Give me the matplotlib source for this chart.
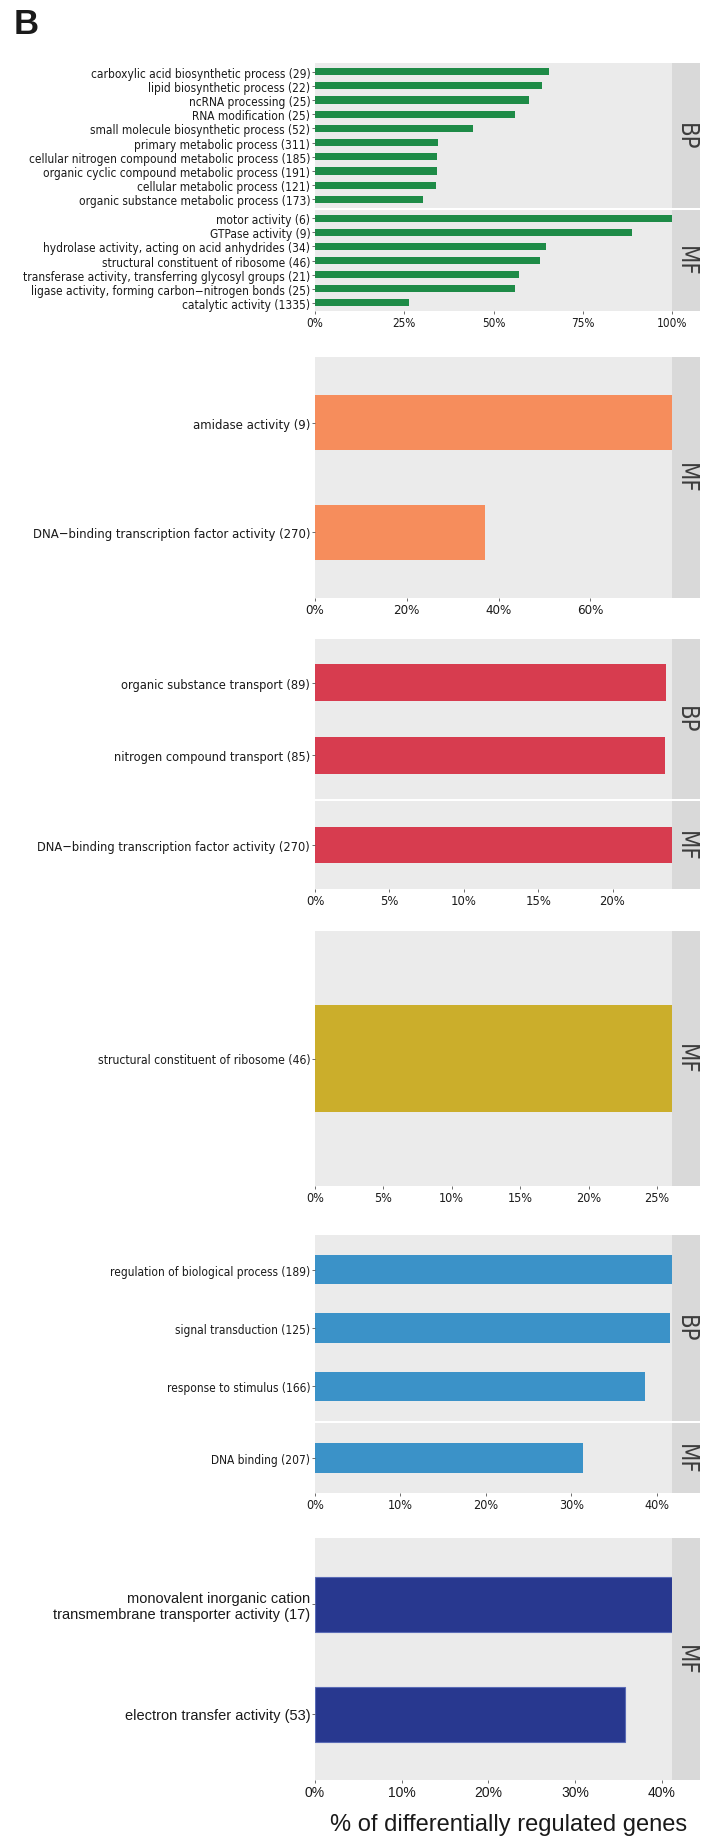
import numpy as np
import matplotlib.pyplot as plt

W, H = 706, 1840
DPI = 100

NARROW = ['DejaVu Sans']
REGULAR = ['Liberation Sans', 'DejaVu Sans']

# --- data: % of differentially regulated genes per GO term ---
g1_bp_terms = ['carboxylic acid biosynthetic process (29)',
               'lipid biosynthetic process (22)',
               'ncRNA processing (25)',
               'RNA modification (25)',
               'small molecule biosynthetic process (52)',
               'primary metabolic process (311)',
               'cellular nitrogen compound metabolic process (185)',
               'organic cyclic compound metabolic process (191)',
               'cellular metabolic process (121)',
               'organic substance metabolic process (173)']
g1_bp_pct = [65.5, 63.6, 60.0, 56.0, 44.2, 34.4, 34.3, 34.3, 33.9, 30.3]
g1_mf_terms = ['motor activity (6)',
               'GTPase activity (9)',
               'hydrolase activity, acting on acid anhydrides (34)',
               'structural constituent of ribosome (46)',
               'transferase activity, transferring glycosyl groups (21)',
               'ligase activity, forming carbon\u2212nitrogen bonds (25)',
               'catalytic activity (1335)']
g1_mf_pct = [100.0, 88.9, 64.7, 63.0, 57.1, 56.0, 26.3]

g2_mf_terms = ['amidase activity (9)',
               'DNA\u2212binding transcription factor activity (270)']
g2_mf_pct = [77.8, 37.0]

g3_bp_terms = ['organic substance transport (89)',
               'nitrogen compound transport (85)']
g3_bp_pct = [23.6, 23.5]
g3_mf_terms = ['DNA\u2212binding transcription factor activity (270)']
g3_mf_pct = [24.0]

g4_mf_terms = ['structural constituent of ribosome (46)']
g4_mf_pct = [26.1]

g5_bp_terms = ['regulation of biological process (189)',
               'signal transduction (125)',
               'response to stimulus (166)']
g5_bp_pct = [41.8, 41.6, 38.6]
g5_mf_terms = ['DNA binding (207)']
g5_mf_pct = [31.4]

g6_mf_terms = ['monovalent inorganic cation\ntransmembrane transporter activity (17)',
               'electron transfer activity (53)']
g6_mf_pct = [41.2, 35.8]

fig = plt.figure(figsize=(W / DPI, H / DPI), dpi=DPI)

L, R, S = 315, 672, 700


def facet(top, bot, terms, pct, xmax, color, strip, ticks, show_x,
          font=NARROW, stretch='condensed', lsize=8.6, tsize=8.5, edge=None):
    ax = fig.add_axes([L / W, 1 - bot / H, (R - L) / W, (bot - top) / H])
    n = len(terms)
    y = np.arange(n, 0, -1)
    ax.barh(y, pct, height=0.5, color=color,
            edgecolor=edge if edge else color, linewidth=0.8 if edge else 0)
    ax.set_xlim(0, xmax)
    ax.set_ylim(0.4, n + 0.6)
    ax.set_facecolor('#ebebeb')
    for s in ax.spines.values():
        s.set_visible(False)
    ax.set_yticks(y)
    ax.set_yticklabels(terms, fontsize=lsize, family=font, stretch=stretch,
                       color='#1a1a1a', linespacing=1.1)
    ax.set_xticks(ticks)
    ax.tick_params(length=2, width=0.6, color='#555555', pad=1.5)
    if show_x:
        ax.set_xticklabels(['%d%%' % t for t in ticks], fontsize=tsize,
                           family=font, stretch=stretch, color='#1a1a1a')
    else:
        ax.set_xticklabels([])
        ax.tick_params(axis='x', length=0)

    sax = fig.add_axes([R / W, 1 - bot / H, (S - R) / W, (bot - top) / H])
    sax.set_facecolor('#d9d9d9')
    sax.set_xticks([])
    sax.set_yticks([])
    for s in sax.spines.values():
        s.set_visible(False)
    sax.text(0.5, 0.5, strip, rotation=-90, ha='center', va='center',
             fontsize=17, family=NARROW, stretch='condensed', color='#3c3c3c',
             transform=sax.transAxes)
    return ax


# panel label
fig.text(14 / W, 1 - 8 / H, 'B', fontsize=25, fontweight='bold',
         family=REGULAR, ha='left', va='top', color='#1a1a1a')

green = '#1e8b47'
x1 = max(g1_bp_pct + g1_mf_pct)
facet(64, 209, g1_bp_terms, g1_bp_pct, x1, green, 'BP', [0, 25, 50, 75, 100], False)
facet(211, 312, g1_mf_terms, g1_mf_pct, x1, green, 'MF', [0, 25, 50, 75, 100], True)

facet(358, 599, g2_mf_terms, g2_mf_pct, max(g2_mf_pct), '#f68d5c', 'MF',
      [0, 20, 40, 60], True, lsize=9.4, tsize=9.5)

red = '#d73c4f'
x3 = max(g3_bp_pct + g3_mf_pct)
facet(640, 800, g3_bp_terms, g3_bp_pct, x3, red, 'BP', [0, 5, 10, 15, 20], False,
      lsize=9.2, tsize=9.3)
facet(802, 890, g3_mf_terms, g3_mf_pct, x3, red, 'MF', [0, 5, 10, 15, 20], True,
      lsize=9.2, tsize=9.3)

facet(932, 1187, g4_mf_terms, g4_mf_pct, max(g4_mf_pct), '#cbae2b', 'MF',
      [0, 5, 10, 15, 20, 25], True, lsize=8.7, tsize=9)

blue = '#3b92c8'
x5 = max(g5_bp_pct + g5_mf_pct)
facet(1236, 1422, g5_bp_terms, g5_bp_pct, x5, blue, 'BP', [0, 10, 20, 30, 40], False,
      lsize=8.6, tsize=9)
facet(1424, 1494, g5_mf_terms, g5_mf_pct, x5, blue, 'MF', [0, 10, 20, 30, 40], True,
      lsize=8.6, tsize=9)

ax6 = facet(1539, 1781, g6_mf_terms, g6_mf_pct, max(g6_mf_pct), '#28388f', 'MF',
            [0, 10, 20, 30, 40], True, font=REGULAR, stretch='normal',
            lsize=10.5, tsize=10, edge='#5a6bb5')

fig.text(509 / W, 1 - 1825 / H, '% of differentially regulated genes',
         fontsize=17, family=REGULAR, ha='center', va='center', color='#1a1a1a')

fig.savefig('out.png', dpi=DPI)
